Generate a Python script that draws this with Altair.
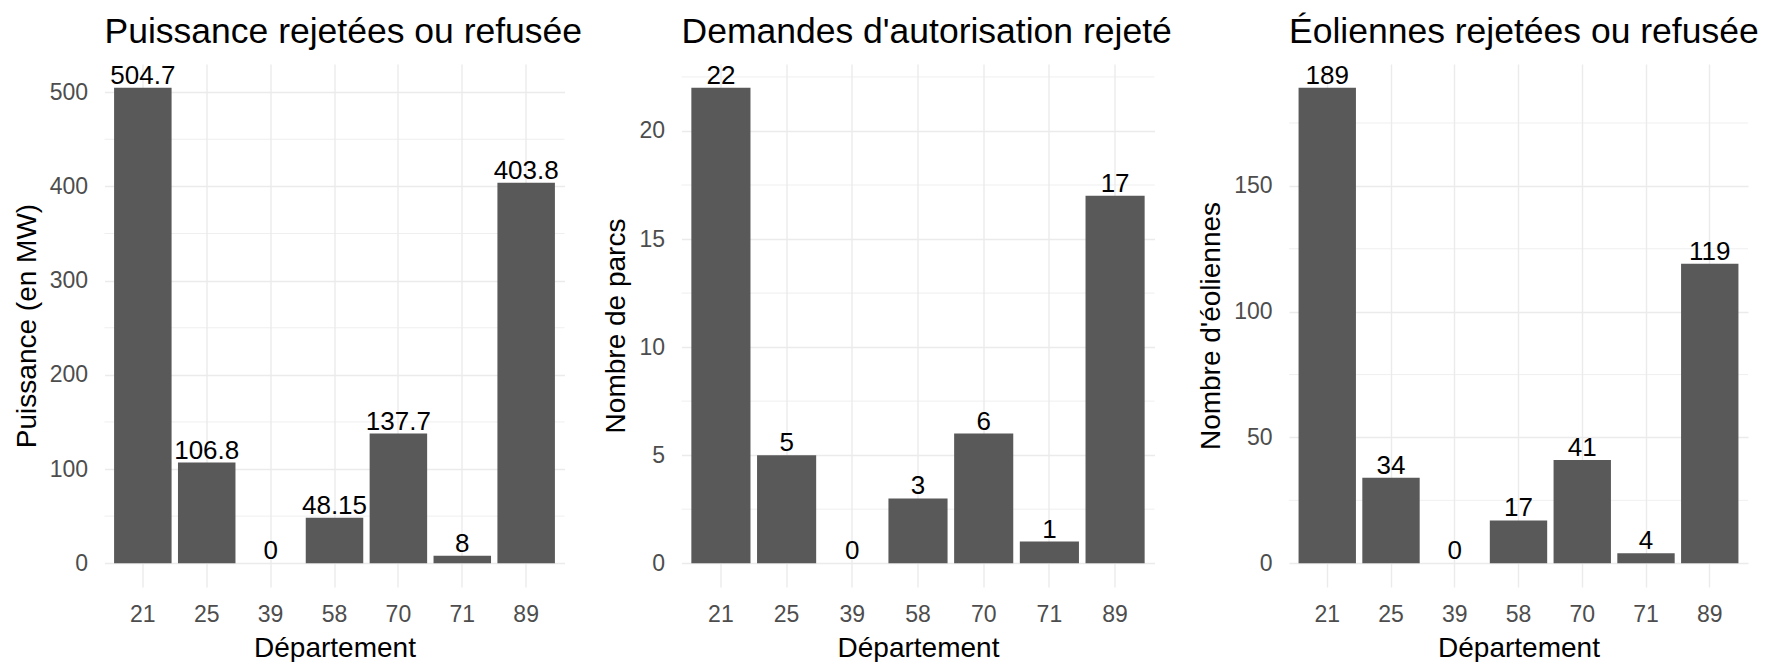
import altair as alt
import pandas as pd

# ---- data ----
departements = ["21", "25", "39", "58", "70", "71", "89"]
puissance = [504.7, 106.8, 0, 48.15, 137.7, 8, 403.8]
parcs = [22, 5, 0, 3, 6, 1, 17]
eoliennes = [189, 34, 0, 17, 41, 4, 119]

titles = [
    "Puissance rejetées ou refusée",
    "Demandes d'autorisation rejeté",
    "Éoliennes rejetées ou refusée",
]
y_titles = ["Puissance (en MW)", "Nombre de parcs", "Nombre d'éoliennes"]
x_title = "Département"
major_ticks = [[0, 100, 200, 300, 400, 500], [0, 5, 10, 15, 20], [0, 50, 100, 150]]
minor_ticks = [[50, 150, 250, 350, 450], [2.5, 7.5, 12.5, 17.5, 22.5], [25, 75, 125, 175]]
series = [puissance, parcs, eoliennes]

# ---- styling ----
FONT = "Liberation Sans"
BAR = "#595959"
GRID = "#EBEBEB"
TICK = "#4D4D4D"
widths = [460, 473, 459]
HEIGHT = 523


def panel(values, title, ytitle, majors, minors, width):
    df = pd.DataFrame({"dep": departements, "val": values})
    vmax = max(values)
    vmin = min(0, min(values))
    span = vmax - vmin
    yscale = alt.Scale(domain=[vmin - 0.05 * span, vmax + 0.05 * span], nice=False, zero=False)

    xaxis = alt.Axis(
        title=x_title,
        labelAngle=0,
        grid=True,
        gridColor=GRID,
        gridWidth=1.4,
        bandPosition=0.5,
        ticks=False,
        domain=False,
        labelPadding=16,
        labelFontSize=23,
        labelColor=TICK,
        titleFontSize=28,
        titleColor="black",
        titleFontWeight="normal",
        titlePadding=8,
    )
    yaxis = alt.Axis(
        title=ytitle,
        values=majors,
        grid=True,
        gridColor=GRID,
        gridWidth=1.4,
        ticks=False,
        domain=False,
        labelPadding=17,
        labelFontSize=23,
        labelColor=TICK,
        titleFontSize=28,
        titleColor="black",
        titleFontWeight="normal",
        titlePadding=8,
    )
    x = alt.X(
        "dep:N",
        sort=departements,
        scale=alt.Scale(paddingInner=0.1, paddingOuter=0.15),
        axis=xaxis,
    )
    y = alt.Y("val:Q", scale=yscale, axis=yaxis)

    minor = (
        alt.Chart(pd.DataFrame({"val": minors}))
        .mark_rule(color=GRID, strokeWidth=0.8)
        .encode(y=y)
    )
    bars = alt.Chart(df).mark_bar(color=BAR).encode(x=x, y=y)
    labels = (
        alt.Chart(df)
        .mark_text(baseline="alphabetic", dy=-4, fontSize=26, color="black")
        .encode(x=x, y=y, text=alt.Text("val:Q", format="~g"))
    )
    return alt.layer(minor, bars, labels).properties(
        width=width,
        height=HEIGHT,
        title=alt.TitleParams(
            text=title,
            anchor="start",
            frame="group",
            fontSize=35.5,
            fontWeight="normal",
            color="black",
            baseline="alphabetic",
            offset=-16,
        ),
    )


panels = [
    panel(series[i], titles[i], y_titles[i], major_ticks[i], minor_ticks[i], widths[i])
    for i in range(3)
]

chart = (
    alt.hconcat(alt.hconcat(panels[0], panels[1], spacing=20), panels[2], spacing=24.5)
    .properties(padding={"left": 4.5, "top": 7, "right": 0, "bottom": 0}, background="white")
    .configure(font=FONT)
    .configure_view(stroke=None)
)

chart.save("out.html", embed_options={"renderer": "svg", "actions": False})
